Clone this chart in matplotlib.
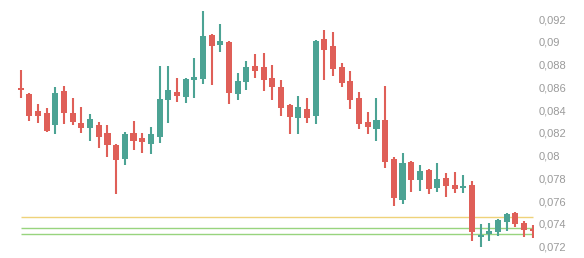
import numpy as np
import matplotlib
matplotlib.use("Agg")
import matplotlib.pyplot as plt
from matplotlib.ticker import FuncFormatter, MultipleLocator

opens = [0.08591, 0.08541, 0.08392, 0.08374, 0.08272, 0.08568, 0.08374, 0.08289, 0.08245, 0.08269,
         0.08199, 0.08096, 0.07973, 0.08199, 0.08155, 0.08105, 0.08166, 0.08491, 0.08559, 0.08518,
         0.08664, 0.08673, 0.09059, 0.08974, 0.09001, 0.08544, 0.08649, 0.08790, 0.08778, 0.08682,
         0.08603, 0.08447, 0.08333, 0.08412, 0.08351, 0.09024, 0.08963, 0.08778, 0.08655, 0.08506,
         0.08295, 0.08237, 0.08316, 0.07973, 0.07613, 0.07944, 0.07789, 0.07874, 0.07718, 0.07804,
         0.07745, 0.07718, 0.07745, 0.07283, 0.07309, 0.07327, 0.07414, 0.07496, 0.07411, 0.07358]
highs = [0.08752, 0.08550, 0.08453, 0.08418, 0.08603, 0.08612, 0.08506, 0.08427, 0.08366, 0.08295,
         0.08269, 0.08102, 0.08208, 0.08304, 0.08199, 0.08251, 0.08787, 0.08787, 0.08682, 0.08682,
         0.08857, 0.09270, 0.09068, 0.09156, 0.09007, 0.08726, 0.08831, 0.08893, 0.08901, 0.08796,
         0.08664, 0.08456, 0.08524, 0.08506, 0.09016, 0.09103, 0.09086, 0.08814, 0.08743, 0.08559,
         0.08383, 0.08506, 0.08612, 0.07988, 0.08023, 0.07953, 0.07918, 0.07883, 0.07935, 0.07847,
         0.07856, 0.07830, 0.07780, 0.07400, 0.07408, 0.07443, 0.07496, 0.07505, 0.07426, 0.07391]
lows = [0.08509, 0.08307, 0.08289, 0.08210, 0.08193, 0.08280, 0.08272, 0.08201, 0.08131, 0.08070,
        0.07991, 0.07666, 0.07920, 0.08052, 0.08026, 0.08017, 0.08114, 0.08289, 0.08474, 0.08465,
        0.08509, 0.08632, 0.08623, 0.08910, 0.08456, 0.08491, 0.08579, 0.08684, 0.08570, 0.08491,
        0.08351, 0.08193, 0.08193, 0.08289, 0.08280, 0.08667, 0.08699, 0.08605, 0.08412, 0.08237,
        0.08193, 0.08131, 0.07894, 0.07560, 0.07578, 0.07683, 0.07692, 0.07666, 0.07683, 0.07639,
        0.07674, 0.07674, 0.07248, 0.07195, 0.07248, 0.07291, 0.07335, 0.07376, 0.07288, 0.07279]
closes = [0.08574, 0.08351, 0.08351, 0.08216, 0.08550, 0.08377, 0.08295, 0.08245, 0.08322, 0.08166,
          0.08096, 0.07964, 0.08190, 0.08131, 0.08122, 0.08190, 0.08497, 0.08576, 0.08524, 0.08673,
          0.08691, 0.09051, 0.08963, 0.09007, 0.08553, 0.08655, 0.08778, 0.08746, 0.08667, 0.08605,
          0.08421, 0.08342, 0.08427, 0.08333, 0.09007, 0.08930, 0.08763, 0.08641, 0.08491, 0.08280,
          0.08254, 0.08316, 0.07944, 0.07630, 0.07935, 0.07789, 0.07865, 0.07710, 0.07795, 0.07736,
          0.07710, 0.07736, 0.07327, 0.07306, 0.07338, 0.07435, 0.07487, 0.07402, 0.07349, 0.07338]

level_yellow = 0.07461
levels_green = [0.07362, 0.07309]

UP = "#4ca394"
DOWN = "#df5f58"

o = np.array(opens)
h = np.array(highs)
l = np.array(lows)
c = np.array(closes)
x = np.arange(len(o))
colors = [UP if cc >= oo else DOWN for oo, cc in zip(o, c)]

fig = plt.figure(figsize=(5.84, 2.58), dpi=100)
ax = fig.add_axes([0, 0, 534 / 584, 1])

ax.hlines(level_yellow, x[0], x[-1], color="#efd27a", lw=1.0, zorder=1)
ax.hlines(levels_green, x[0], x[-1], color="#98d47e", lw=1.0, zorder=1)

ax.vlines(x, l, h, color=colors, lw=1.5, zorder=2)
body = np.maximum(np.abs(c - o), 0.00012)
ax.bar(x, body, bottom=np.minimum(o, c), width=0.7, color=colors, zorder=3)

ax.set_xlim(-2.385, 59.15)
ax.set_ylim(0.07101, 0.09367)

ax.yaxis.tick_right()
ax.yaxis.set_major_locator(MultipleLocator(0.002))
ax.yaxis.set_major_formatter(FuncFormatter(lambda v, p: f"{v:.3f}".rstrip("0").replace(".", ",")))
ax.tick_params(axis="y", length=0, pad=3, labelsize=8, labelcolor="#9a9a9a")
for t in ax.get_yticklabels():
    t.set_fontfamily("Liberation Sans")
ax.set_xticks([])
for s in ax.spines.values():
    s.set_visible(False)

fig.savefig("out.png", dpi=100)
